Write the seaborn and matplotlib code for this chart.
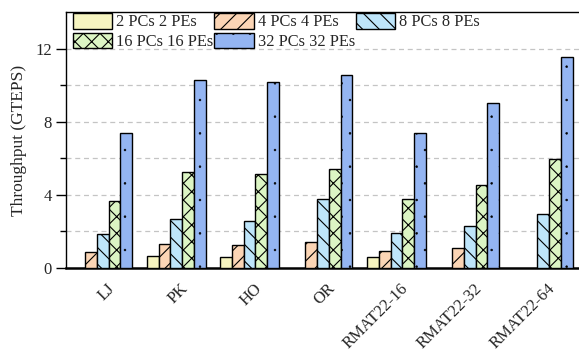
import numpy as np
import pandas as pd
import matplotlib
matplotlib.use("Agg")
import matplotlib.pyplot as plt
import matplotlib.transforms as mtransforms
import matplotlib.hatch as mhatch
import seaborn as sns
from matplotlib.patches import Patch

nan = np.nan

# Throughput (GTEPS) per graph for each PC/PE configuration
graphs = ["LJ", "PK", "HO", "OR", "RMAT22-16", "RMAT22-32", "RMAT22-64"]
configs = ["2 PCs 2 PEs", "4 PCs 4 PEs", "8 PCs 8 PEs", "16 PCs 16 PEs", "32 PCs 32 PEs"]
pc2 = [nan, 0.64, 0.58, nan, 0.62, nan, nan]
pc4 = [0.89, 1.31, 1.24, 1.40, 0.94, 1.07, nan]
pc8 = [1.84, 2.66, 2.58, 3.80, 1.89, 2.29, 2.98]
pc16 = [3.67, 5.27, 5.16, 5.44, 3.75, 4.56, 5.95]
pc32 = [7.38, 10.27, 10.15, 10.55, 7.40, 9.05, 11.53]
yticks = [0, 4, 8, 12]

colors = ["#f6f4c0", "#fbd5b5", "#bee5fa", "#dcf5c4", "#94b5f2"]
hatches = ["", "//", "\\\\", "xx", "."]

df = pd.DataFrame({
    "graph": np.repeat(graphs, len(configs)),
    "config": configs * len(graphs),
    "value": np.column_stack([pc2, pc4, pc8, pc16, pc32]).ravel(),
})

sns.set_theme(style="white")
plt.rcParams["font.family"] = ["Liberation Serif", "DejaVu Serif"]
plt.rcParams["hatch.linewidth"] = 0.8
plt.rcParams["hatch.color"] = "black"
# finer dots for the "." hatch
mhatch.SmallFilledCircles.size = 0.055

fig = plt.figure(figsize=(5.79, 3.54), dpi=100)
ax = fig.add_axes([66 / 579, 86 / 354, 514 / 579, 256 / 354])

sns.barplot(data=df, x="graph", y="value", hue="config", order=graphs,
            hue_order=configs, palette=colors, width=0.8, gap=0,
            edgecolor="black", linewidth=1.0, saturation=1, ax=ax,
            legend=False, zorder=3)


def style_patch(p, h):
    p.set_hatch(h)
    p.set_edgecolor("black")
    if h == ".":
        try:
            p.set_hatch_linewidth(0.4)
        except AttributeError:
            pass


for cont, h in zip(ax.containers, hatches):
    for p in cont:
        style_patch(p, h)

ax.set_xlim(-0.5, 6.5)
ax.set_ylim(0, 14)
ax.set_yticks(yticks)
ax.set_yticks([2, 6, 10], minor=True)
ax.set_yticklabels([str(t) for t in yticks], fontsize=12)
for y in [2, 4, 6, 8, 10, 12]:
    ax.axhline(y, color="#c4c4c4", lw=0.9, ls=(0, (4, 3)), zorder=1)

ax.tick_params(axis="y", which="major", length=7, width=1.0, color="black",
               pad=3, left=True)
ax.tick_params(axis="y", which="minor", length=4, width=1.0, color="black",
               left=True)
ax.tick_params(axis="x", length=0, pad=9)
ax.set_xticks(range(len(graphs)))
ax.set_xticklabels(graphs, rotation=45, ha="right", va="top",
                   rotation_mode="anchor", fontsize=12)
shift = mtransforms.ScaledTranslation(4 / 100, 0, fig.dpi_scale_trans)
for lab in ax.get_xticklabels():
    lab.set_transform(lab.get_transform() + shift)

ax.set_xlabel("")
ax.set_ylabel("Throughput (GTEPS)", fontsize=12.5, labelpad=6)

for s in ["left", "top", "right"]:
    ax.spines[s].set_color("black")
    ax.spines[s].set_linewidth(1.0)
ax.spines["bottom"].set_color("black")
ax.spines["bottom"].set_linewidth(1.8)

handles = []
for c, h, l in zip(colors, hatches, configs):
    hp = Patch(facecolor=c, edgecolor="black", linewidth=1.0, label=l)
    style_patch(hp, h)
    handles.append(hp)
# fill the three-column legend row by row
order = [0, 3, 1, 4, 2]
ax.legend(handles=[handles[i] for i in order], ncol=3, loc="upper left",
          bbox_to_anchor=(0.013, 0.997), frameon=False, fontsize=11.8,
          handlelength=2.4, handleheight=1.1, handletextpad=0.25,
          labelspacing=0.15, columnspacing=0.05, borderpad=0,
          borderaxespad=0)

fig.savefig("out.png", dpi=100)
